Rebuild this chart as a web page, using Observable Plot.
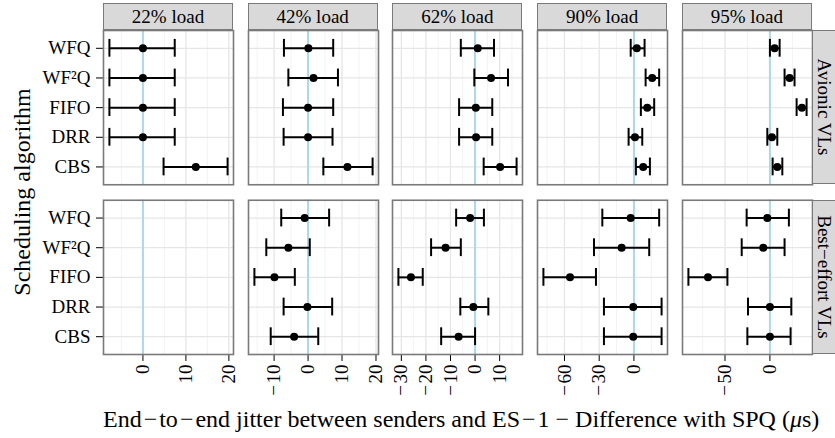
<!DOCTYPE html>
<html>
<head>
<meta charset="utf-8">
<script src="https://cdn.jsdelivr.net/npm/d3@7"></script>
<script src="https://cdn.jsdelivr.net/npm/@observablehq/plot@0.6"></script>
<style>
  html, body { margin: 0; padding: 0; background: #fff; }
  #chart { position: relative; width: 835px; height: 438px; overflow: hidden;
           font-family: "Liberation Serif", serif; color: #000; }
  #chart svg { position: absolute; top: 0; overflow: visible; }
  .strip { position: absolute; box-sizing: border-box; background: #d9d9d9;
           border: 1.5px solid #7a7a7a; font-size: 19px; line-height: 1;
           display: flex; align-items: center; justify-content: center; white-space: nowrap; }
  .strip.right { display: block; }
  .strip.right span { position: absolute; left: 11px; top: 50%;
                      transform: translate(-50%, -50%) rotate(90deg); white-space: nowrap; }
  .title { position: absolute; font-size: 24px; line-height: 24px; white-space: nowrap; }
</style>
</head>
<body>
<div id="chart"></div>
<script>
const algorithms = ["WFQ", "WF²Q", "FIFO", "DRR", "CBS"];
const loads = ["22% load", "42% load", "62% load", "90% load", "95% load"];
const vlTypes = ["Avionic VLs", "Best\u2212effort VLs"];

// Jitter difference with SPQ (µs): one row per load, one value per algorithm.
const avionicMean = [
  [0, 0, 0, 0, 12.3],
  [0.1, 1.6, 0, 0, 11.6],
  [1.1, 6.5, 0.3, 0.4, 10.2],
  [2.5, 15.8, 11.5, 0.9, 8.0],
  [5.2, 21.9, 35.6, 2.2, 8.2]
];
const avionicLow = [
  [-7.8, -7.8, -7.8, -7.8, 4.8],
  [-7.1, -5.8, -7.4, -7.2, 4.5],
  [-5.8, -0.3, -6.5, -6.5, 3.5],
  [-2.8, 10.1, 6.0, -4.6, 1.7],
  [0.0, 16.3, 29.7, -2.9, 3.0]
];
const avionicHigh = [
  [7.4, 7.4, 7.4, 7.4, 19.7],
  [7.4, 8.8, 7.4, 7.2, 19.0],
  [7.7, 13.4, 7.0, 7.0, 16.9],
  [9.2, 21.8, 17.5, 7.2, 13.8],
  [10.8, 27.4, 40.8, 8.2, 13.8]
];
// No best-effort traffic measured at 22% load.
const bestEffortMean = [
  null,
  [-1.0, -5.8, -9.9, -0.2, -4.1],
  [-2.0, -12.0, -26.1, -0.7, -6.7],
  [-2.8, -10.6, -55.2, -0.6, -0.6],
  [-2.9, -7.4, -68.9, 0.0, 0.0]
];
const bestEffortLow = [
  null,
  [-7.9, -12.3, -15.8, -7.2, -11.0],
  [-7.7, -17.9, -31.2, -6.0, -13.8],
  [-27.3, -34.5, -78.2, -25.9, -25.9],
  [-25.9, -31.4, -90.7, -24.4, -25.1]
];
const bestEffortHigh = [
  null,
  [6.2, 0.5, -3.9, 7.1, 3.0],
  [3.6, -5.8, -21.3, 5.4, 0.0],
  [21.8, 13.2, -32.8, 23.9, 23.9],
  [21.1, 16.3, -47.3, 23.8, 23.0]
];

const majorTicks = [[0, 10, 20], [-10, 0, 10, 20], [-30, -20, -10, 0, 10], [-60, -30, 0], [-50, 0]];
const minorTicks = [[-5, 5, 15], [-15, -5, 5, 15], [-25, -15, -5, 5, 15], [-75, -45, -15, 15], [-75, -25, 25]];

// Layout of the panel grid
const panelLeft0 = 103, panelStep = 144.7, panelWidth = 130;
const gridTop = 30, gridBottom = 354, rowGap = 15.5;
const rowHeight = (gridBottom - gridTop - rowGap) / 2;
const fyPadding = 2 * rowGap / (gridBottom - gridTop + rowGap);

const fmt = d => d < 0 ? "\u2212\u200a" + Math.abs(d) : String(d);
const chart = document.getElementById("chart");

function rowsFor(i) {
  const rows = [];
  const sets = [[vlTypes[0], avionicMean, avionicLow, avionicHigh],
                [vlTypes[1], bestEffortMean, bestEffortLow, bestEffortHigh]];
  for (const [vl, M, L, H] of sets) {
    if (!M[i]) continue;
    algorithms.forEach((algo, j) => rows.push({vl, algo, mean: M[i][j], lo: L[i][j], hi: H[i][j]}));
  }
  return rows;
}

loads.forEach((load, i) => {
  const rows = rowsFor(i);
  const [xmin, xmax] = d3.extent(rows.flatMap(d => [d.lo, d.hi]));
  const pad = (xmax - xmin) * 0.05;
  const perRow = values => vlTypes.flatMap(vl => values.map(v => ({vl, v})));
  const ml = i === 0 ? panelLeft0 : 2;
  const left = panelLeft0 + i * panelStep;

  const svg = Plot.plot({
    width: ml + panelWidth + 2,
    height: 438,
    marginLeft: ml, marginRight: 2, marginTop: gridTop, marginBottom: 438 - gridBottom,
    style: {fontFamily: "'Liberation Serif', serif", fontSize: "19px", color: "#000", background: "none", overflow: "visible"},
    x: {domain: [xmin - pad, xmax + pad], ticks: majorTicks[i], tickFormat: fmt, tickRotate: -90,
        tickSize: 7, tickPadding: 3, label: null},
    y: {domain: algorithms, paddingInner: 0.4, paddingOuter: 0.3, round: false,
        axis: i === 0 ? "left" : null, tickSize: 7, tickPadding: 6, label: null},
    fy: {domain: vlTypes, paddingInner: fyPadding, paddingOuter: 0, round: false, axis: null, label: null},
    marks: [
      Plot.ruleX(perRow(minorTicks[i]), {x: "v", fy: "vl", stroke: "#f3f3f3", strokeWidth: 1}),
      Plot.ruleX(perRow(majorTicks[i]), {x: "v", fy: "vl", stroke: "#e6e6e6", strokeWidth: 1.3}),
      Plot.ruleY(perRow(algorithms), {y: "v", fy: "vl", stroke: "#e6e6e6", strokeWidth: 1.3}),
      Plot.ruleX(perRow([0]), {x: "v", fy: "vl", stroke: "lightblue", strokeWidth: 2}),
      Plot.ruleY(rows, {y: "algo", x1: "lo", x2: "hi", fy: "vl", stroke: "#000", strokeWidth: 2}),
      Plot.tickX(rows, {x: "lo", y: "algo", fy: "vl", stroke: "#000", strokeWidth: 2}),
      Plot.tickX(rows, {x: "hi", y: "algo", fy: "vl", stroke: "#000", strokeWidth: 2}),
      Plot.dot(rows, {x: "mean", y: "algo", fy: "vl", r: 4, fill: "#000"}),
      Plot.frame({stroke: "#7a7a7a", strokeWidth: 1.6})
    ]
  });
  svg.style.left = (left - ml) + "px";
  chart.appendChild(svg);

  // Load strip above each column
  const strip = document.createElement("div");
  strip.className = "strip";
  strip.style.left = left + "px";
  strip.style.top = "3px";
  strip.style.width = panelWidth + "px";
  strip.style.height = (gridTop - 3) + "px";
  strip.textContent = load;
  chart.appendChild(strip);
});

// VL-type strips on the right of the last column
vlTypes.forEach((vl, k) => {
  const strip = document.createElement("div");
  strip.className = "strip right";
  strip.style.left = (panelLeft0 + 4 * panelStep + panelWidth) + "px";
  strip.style.top = (gridTop + k * (rowHeight + rowGap)) + "px";
  strip.style.width = "30px";
  strip.style.height = rowHeight + "px";
  const label = document.createElement("span");
  label.textContent = vl;
  strip.appendChild(label);
  chart.appendChild(strip);
});

// Axis titles
const xTitle = document.createElement("div");
xTitle.className = "title";
xTitle.style.left = panelLeft0 + "px";
xTitle.style.width = (4 * panelStep + panelWidth) + "px";
xTitle.style.textAlign = "center";
xTitle.style.top = "407px";
xTitle.innerHTML = "End\u200a\u2212\u200ato\u200a\u2212\u200aend jitter between senders and ES\u200a\u2212\u200a1 \u2212 Difference with SPQ (<i>\u03bc</i>s)";
chart.appendChild(xTitle);

const yTitle = document.createElement("div");
yTitle.className = "title";
yTitle.style.left = "21.5px";
yTitle.style.top = ((gridTop + gridBottom) / 2) + "px";
yTitle.style.transform = "translate(-50%, -50%) rotate(-90deg)";
yTitle.textContent = "Scheduling algorithm";
chart.appendChild(yTitle);
</script>
</body>
</html>
